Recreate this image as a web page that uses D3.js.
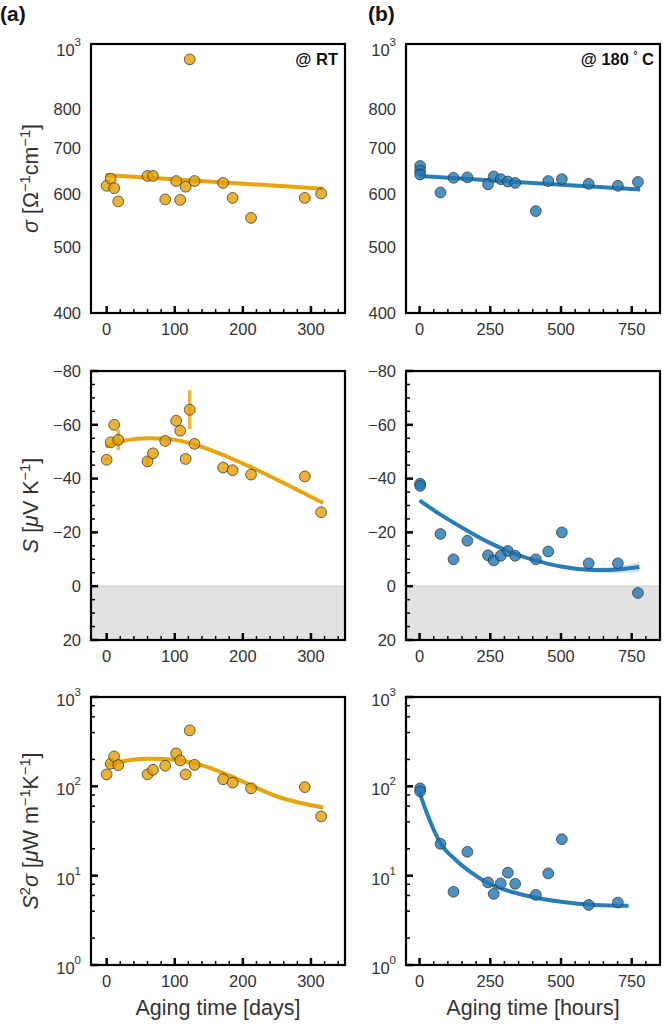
<!DOCTYPE html>
<html><head><meta charset="utf-8">
<script src="https://cdn.jsdelivr.net/npm/d3@7"></script>
<style>body{margin:0;background:#fff}svg{display:block}</style>
</head><body><div id="chart"></div>
<script>
// ---------- data ----------
const days = [0, 6, 11, 17, 60, 68, 86, 102, 108, 116, 122, 129, 171, 185, 212, 291, 315];
const sigmaRT = [617, 632, 612, 585, 638, 638, 589, 627, 588, 615, 949, 627, 623, 592, 553, 592, 601];
const seebeckRT = [-47, -53.5, -60, -54.4, -46.4, -49.4, -54, -61.5, -57.8, -47.3, -65.6, -52.9, -44.1, -43.1, -41.5, -40.8, -27.5];
const seebeckErrRT = [0.8, 0, 0, 3.8, 1.8, 0, 0, 0, 0, 0, 7.3, 0, 0, 0, 0, 0, 0];
const pfRT = [136, 179, 216, 173, 136, 153, 170, 234, 195, 136, 423, 174, 120, 110, 95, 98, 46];

const hoursSigma = [2, 2, 2, 74, 120, 169, 242, 262, 287, 312, 338, 411, 455, 503, 598, 701, 772];
const sigma180 = [660, 650, 641, 603, 634, 635, 620, 637, 631, 626, 623, 566, 627, 631, 621, 617, 625];
const hoursS = [2, 2, 74, 120, 169, 242, 262, 287, 312, 338, 411, 455, 503, 598, 701, 772];
const seebeck180 = [-38.1, -37.3, -19.4, -10, -16.9, -11.5, -9.6, -11.3, -13.1, -11.3, -10, -12.9, -20, -8.5, -8.5, 2.5];
const hoursPF = [2, 2, 74, 120, 169, 242, 262, 287, 312, 338, 411, 455, 503, 598, 701];
const pf180 = [95, 88, 22.7, 6.6, 18.5, 8.4, 6.25, 8.2, 10.8, 8.1, 6.1, 10.6, 25.6, 4.7, 5.0];

// fitted curves
const fitSigmaRTx = [-2, 318], fitSigmaRTy = [640, 611];
const fitSigma180x = [0, 780], fitSigma180y = [638, 609];
const fitSRTx = [-2, 30, 62, 100, 145, 200, 257, 318];
const fitSRTy = [-51.9, -54.3, -55, -54.4, -51.3, -45.6, -38.75, -30.9];
const fitS180x = [0, 74, 169, 250, 340, 411, 500, 598, 701, 777];
const fitS180y = [-31.9, -26.6, -20.6, -16, -11.9, -9.5, -7.3, -6.1, -6.2, -7.1];
const fitS180band = [0.5, 0.5, 0.5, 0.5, 0.5, 0.5, 0.6, 0.8, 1.3, 1.9];
const fitPFRTx = [-2, 30, 60, 100, 145, 200, 257, 318];
const fitPFRTy = [172, 195, 204, 198, 167, 113, 74, 58];
const fitPF180x = [0, 21, 45, 74, 128, 187, 250, 340, 500, 623, 739];
const fitPF180y = [85, 55, 35.5, 23, 15, 10.6, 8, 6.4, 5.1, 4.7, 4.6];

const daysMajor = [0, 100, 200, 300];
const hoursMajor = [0, 250, 500, 750];
const sigmaTicks = [400, 500, 600, 700, 800];
const seebeckTicks = [-80, -60, -40, -20, 0, 20];
const pfTicks = [1, 10, 100, 1000];

// ---------- layout ----------
const W = 664, H = 1027;
const cols = [[91, 345], [406, 660]];
const rows = [[44, 313], [371, 640], [697, 965]];
const ORANGE = "#E69F00", BLUE = "#1f77b4";
const FONT = "'Liberation Sans', Arial, sans-serif";
const TICK_FS = 16.5;

const svg = d3.select("#chart").append("svg").attr("width", W).attr("height", H)
  .style("font-family", FONT);

function xDays() { return d3.scaleLinear().domain([-23, 350]).range(cols[0]); }
function xHours() { return d3.scaleLinear().domain([-48, 850]).range(cols[1]); }
function ySigma(r) { return d3.scaleLog().domain([400, 1000]).range([rows[r][1], rows[r][0]]); }
function yS(r) { return d3.scaleLinear().domain([20, -80]).range([rows[r][1], rows[r][0]]); }
function yPF(r) { return d3.scaleLog().domain([1, 1000]).range([rows[r][1], rows[r][0]]); }

let clipId = 0;
function panel(x, y) {
  const g = svg.append("g");
  const [x0, x1] = x.range(); const [y1, y0] = y.range();
  const id = "clip" + (clipId++);
  svg.append("clipPath").attr("id", id).append("rect")
    .attr("x", x0).attr("y", y0).attr("width", x1 - x0).attr("height", y1 - y0);
  const plot = g.append("g").attr("clip-path", `url(#${id})`);
  return { g, plot, x0, x1, y0, y1 };
}

function frame(p) {
  p.g.append("rect").attr("x", p.x0).attr("y", p.y0).attr("width", p.x1 - p.x0).attr("height", p.y1 - p.y0)
    .attr("fill", "none").attr("stroke", "#000").attr("stroke-width", 2.2);
}

function xAxis(p, x, major, minorStep, minorMin, minorMax) {
  const minors = d3.range(minorMin, minorMax + 0.001, minorStep).filter(v => !major.includes(v));
  p.g.append("g").selectAll("line").data(minors).join("line")
    .attr("x1", d => x(d)).attr("x2", d => x(d)).attr("y1", p.y1).attr("y2", p.y1 - 4)
    .attr("stroke", "#000").attr("stroke-width", 1.5);
  p.g.append("g").selectAll("line").data(major).join("line")
    .attr("x1", d => x(d)).attr("x2", d => x(d)).attr("y1", p.y1).attr("y2", p.y1 - 7)
    .attr("stroke", "#000").attr("stroke-width", 2.5);
  p.g.append("g").selectAll("text").data(major).join("text")
    .attr("x", d => x(d)).attr("y", p.y1 + 22).attr("text-anchor", "middle")
    .attr("font-size", TICK_FS).attr("fill", "#333").text(d => d);
}

function yTicksLinear(p, y, major, minorStep) {
  const minors = d3.range(y.domain()[1], y.domain()[0] + 0.001, minorStep).filter(v => !major.includes(v));
  p.g.append("g").selectAll("line").data(minors).join("line")
    .attr("x1", p.x0).attr("x2", p.x0 + 4).attr("y1", d => y(d)).attr("y2", d => y(d))
    .attr("stroke", "#000").attr("stroke-width", 1.5);
  p.g.append("g").selectAll("line").data(major).join("line")
    .attr("x1", p.x0).attr("x2", p.x0 + 7).attr("y1", d => y(d)).attr("y2", d => y(d))
    .attr("stroke", "#000").attr("stroke-width", 2.5);
  p.g.append("g").selectAll("text").data(major).join("text")
    .attr("x", p.x0 - 10).attr("y", d => y(d)).attr("dy", "0.35em").attr("text-anchor", "end")
    .attr("font-size", TICK_FS).attr("fill", "#333").text(d => d < 0 ? "\u2212" + (-d) : d);
}

function pow10Label(p, yy, exp) {
  const t = p.g.append("text").attr("x", p.x0 - 10).attr("y", yy + 9).attr("text-anchor", "end")
    .attr("font-size", TICK_FS).attr("fill", "#333");
  t.append("tspan").text("10");
  t.append("tspan").attr("dy", -10).attr("font-size", 11.5).text(exp);
}

function yTicksSigma(p, y) {
  p.g.append("g").selectAll("text").data(sigmaTicks).join("text")
    .attr("x", p.x0 - 10).attr("y", d => y(d)).attr("dy", "0.35em").attr("text-anchor", "end")
    .attr("font-size", TICK_FS).attr("fill", "#333").text(d => d);
  pow10Label(p, y(1000) + 3, "3");
}

function yTicksPF(p, y) {
  const minors = [];
  [1, 10, 100].forEach(b => [2, 4, 6, 8].forEach(m => minors.push(b * m)));
  p.g.append("g").selectAll("line").data(minors).join("line")
    .attr("x1", p.x0).attr("x2", p.x0 + 4).attr("y1", d => y(d)).attr("y2", d => y(d))
    .attr("stroke", "#000").attr("stroke-width", 1.5);
  p.g.append("g").selectAll("line").data(pfTicks).join("line")
    .attr("x1", p.x0).attr("x2", p.x0 + 7).attr("y1", d => y(d)).attr("y2", d => y(d))
    .attr("stroke", "#000").attr("stroke-width", 2.5);
  pfTicks.forEach(v => pow10Label(p, y(v), String(Math.round(Math.log10(v)))));
}

function fitLine(p, x, y, xs, ys, color, curve, band) {
  const pts = xs.map((d, i) => [d, ys[i], band ? band[i] : 0]);
  if (band) {
    p.plot.append("path").datum(pts)
      .attr("d", d3.area().x(d => x(d[0])).y0(d => y(d[1] - d[2])).y1(d => y(d[1] + d[2])).curve(curve))
      .attr("fill", color).attr("opacity", 0.2);
  }
  p.plot.append("path").datum(pts)
    .attr("d", d3.line().x(d => x(d[0])).y(d => y(d[1])).curve(curve))
    .attr("fill", "none").attr("stroke", color).attr("stroke-width", 4).attr("opacity", 0.95);
}

function points(p, x, y, xs, ys, color) {
  p.plot.append("g").selectAll("circle").data(xs.map((d, i) => [d, ys[i]])).join("circle")
    .attr("cx", d => x(d[0])).attr("cy", d => y(d[1])).attr("r", 5.4)
    .attr("fill", color).attr("fill-opacity", 0.8)
    .attr("stroke", "#333").attr("stroke-opacity", 0.75).attr("stroke-width", 1);
}

function errBars(p, x, y, xs, ys, errs, color) {
  p.plot.append("g").selectAll("line").data(xs.map((d, i) => [d, ys[i], errs[i]]).filter(d => d[2] > 0)).join("line")
    .attr("x1", d => x(d[0])).attr("x2", d => x(d[0]))
    .attr("y1", d => y(d[1] - d[2])).attr("y2", d => y(d[1] + d[2]))
    .attr("stroke", color).attr("stroke-width", 3.5).attr("opacity", 0.75);
}

function grayZone(p, y) {
  p.plot.append("rect").attr("x", p.x0).attr("width", p.x1 - p.x0)
    .attr("y", y(0)).attr("height", y(20) - y(0)).attr("fill", "#e2e2e2");
  p.plot.append("line").attr("x1", p.x0).attr("x2", p.x1).attr("y1", y(0)).attr("y2", y(0))
    .attr("stroke", "#cfcfcf").attr("stroke-width", 1.2);
}

function richText(parent, attrs, parts, size) {
  const t = parent.append("text");
  Object.entries(attrs).forEach(([k, v]) => t.attr(k, v));
  let shift = 0;
  parts.forEach(pt => {
    const s = t.append("tspan").text(pt.t);
    if (pt.it) s.attr("font-style", "italic");
    const target = pt.sup ? -8 : 0;
    if (target !== shift) { s.attr("dy", target - shift); shift = target; }
    if (pt.sup) s.attr("font-size", size * 0.68);
  });
  return t;
}

// ---------- Row 0: sigma ----------
{
  const x = xDays(), y = ySigma(0);
  const p = panel(x, y);
  fitLine(p, x, y, fitSigmaRTx, fitSigmaRTy, ORANGE, d3.curveLinear);
  points(p, x, y, days, sigmaRT, ORANGE);
  frame(p); xAxis(p, x, daysMajor, 20, 20, 340); yTicksSigma(p, y);
  p.g.append("text").attr("x", p.x1 - 7).attr("y", p.y0 + 21).attr("text-anchor", "end")
    .attr("font-size", 16.5).attr("font-weight", "bold").attr("fill", "#111").text("@ RT");
}
{
  const x = xHours(), y = ySigma(0);
  const p = panel(x, y);
  fitLine(p, x, y, fitSigma180x, fitSigma180y, BLUE, d3.curveLinear);
  points(p, x, y, hoursSigma, sigma180, BLUE);
  frame(p); xAxis(p, x, hoursMajor, 50, 50, 850); yTicksSigma(p, y);
  const t = p.g.append("text").attr("x", p.x1 - 6).attr("y", p.y0 + 21).attr("text-anchor", "end")
    .attr("font-size", 16.5).attr("font-weight", "bold").attr("fill", "#111");
  t.append("tspan").text("@ 180  ");
  t.append("tspan").attr("dy", -6).attr("font-size", 10).text("\u00B0");
  t.append("tspan").attr("dy", 6).text(" C");
}
// ---------- Row 1: Seebeck ----------
{
  const x = xDays(), y = yS(1);
  const p = panel(x, y);
  grayZone(p, y);
  fitLine(p, x, y, fitSRTx, fitSRTy, ORANGE, d3.curveNatural);
  errBars(p, x, y, days, seebeckRT, seebeckErrRT, ORANGE);
  points(p, x, y, days, seebeckRT, ORANGE);
  frame(p); xAxis(p, x, daysMajor, 20, 20, 340); yTicksLinear(p, y, seebeckTicks, 5);
}
{
  const x = xHours(), y = yS(1);
  const p = panel(x, y);
  grayZone(p, y);
  fitLine(p, x, y, fitS180x, fitS180y, BLUE, d3.curveNatural, fitS180band);
  points(p, x, y, hoursS, seebeck180, BLUE);
  frame(p); xAxis(p, x, hoursMajor, 50, 50, 850); yTicksLinear(p, y, seebeckTicks, 5);
}
// ---------- Row 2: power factor ----------
{
  const x = xDays(), y = yPF(2);
  const p = panel(x, y);
  fitLine(p, x, y, fitPFRTx, fitPFRTy, ORANGE, d3.curveNatural);
  points(p, x, y, days, pfRT, ORANGE);
  frame(p); xAxis(p, x, daysMajor, 20, 20, 340); yTicksPF(p, y);
}
{
  const x = xHours(), y = yPF(2);
  const p = panel(x, y);
  fitLine(p, x, y, fitPF180x, fitPF180y, BLUE, d3.curveMonotoneX);
  points(p, x, y, hoursPF, pf180, BLUE);
  frame(p); xAxis(p, x, hoursMajor, 50, 50, 850); yTicksPF(p, y);
}

// ---------- titles ----------
const TS = 21.5;
function yTitle(r, parts) {
  const cy = (rows[r][0] + rows[r][1]) / 2;
  richText(svg, { transform: `translate(38,${cy}) rotate(-90)`, "text-anchor": "middle", "font-size": TS, fill: "#333" }, parts, TS);
}
yTitle(0, [{ t: "\u03C3", it: 1 }, { t: " [\u03A9" }, { t: "\u22121", sup: 1 }, { t: "cm" }, { t: "\u22121", sup: 1 }, { t: "]" }]);
yTitle(1, [{ t: "S", it: 1 }, { t: " [" }, { t: "\u03BC", it: 1 }, { t: "V K" }, { t: "\u22121", sup: 1 }, { t: "]" }]);
yTitle(2, [{ t: "S", it: 1 }, { t: "2", sup: 1 }, { t: "\u03C3", it: 1 }, { t: " [" }, { t: "\u03BC", it: 1 }, { t: "W m" }, { t: "\u22121", sup: 1 }, { t: "K" }, { t: "\u22121", sup: 1 }, { t: "]" }]);

svg.append("text").attr("x", (cols[0][0] + cols[0][1]) / 2).attr("y", 1015).attr("text-anchor", "middle")
  .attr("font-size", TS).attr("fill", "#333").text("Aging time [days]");
svg.append("text").attr("x", (cols[1][0] + cols[1][1]) / 2).attr("y", 1015).attr("text-anchor", "middle")
  .attr("font-size", TS).attr("fill", "#333").text("Aging time [hours]");

svg.append("text").attr("x", 0).attr("y", 21).attr("font-size", 21).attr("font-weight", "bold").attr("fill", "#111").text("(a)");
svg.append("text").attr("x", 368).attr("y", 21).attr("font-size", 21).attr("font-weight", "bold").attr("fill", "#111").text("(b)");
</script></body></html>
